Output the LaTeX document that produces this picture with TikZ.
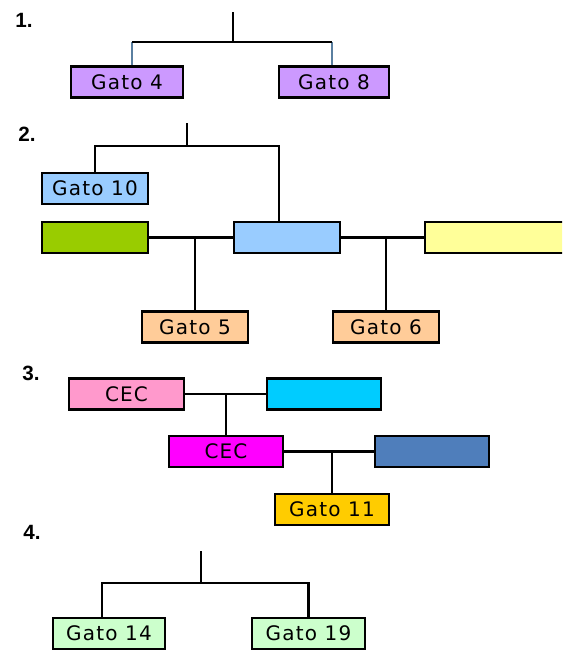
\documentclass[tikz,border=0pt]{standalone}
\usepackage{fontspec}
\setmainfont{Liberation Sans}
\newfontfamily\boxfont[LetterSpace=6]{DejaVu Sans}
\usetikzlibrary{calc}
\definecolor{cPurple}{HTML}{CC99FF}
\definecolor{cLBlue}{HTML}{99CCFF}
\definecolor{cGreen}{HTML}{99CC00}
\definecolor{cYellow}{HTML}{FFFF99}
\definecolor{cOrange}{HTML}{FFCC99}
\definecolor{cPink}{HTML}{FF99CC}
\definecolor{cCyan}{HTML}{00CCFF}
\definecolor{cMagenta}{HTML}{FF00FF}
\definecolor{cDBlue}{HTML}{4F7EBB}
\definecolor{cGold}{HTML}{FFCC00}
\definecolor{cMint}{HTML}{CCFFCC}
\definecolor{cDrop}{HTML}{5A7FA0}
\tikzset{
  gbox/.style={draw=black, line width=1.6pt, rectangle, inner sep=0pt,
    font=\boxfont\fontsize{15}{17}\selectfont,
    minimum width=#1*0.75pt, minimum height=23.25pt},
  link/.style={draw=black, line width=1.6pt},
  droplink/.style={draw=cDrop, line width=1.6pt},
  seclabel/.style={font=\bfseries\fontsize{15.5}{17}\selectfont, inner sep=0pt}
}
\begin{document}
\begin{tikzpicture}[x=0.75pt,y=-0.75pt]
\useasboundingbox (0,0) rectangle (562,651);
\clip (0,0) rectangle (562,651);
% section labels
\node[seclabel] (l1) at (24,20) {1.};
\node[seclabel] (l2) at (27,134) {2.};
\node[seclabel] (l3) at (31,373) {3.};
\node[seclabel] (l4) at (32,532) {4.};
% ---- section 1
\node[gbox=112, fill=cPurple] (g4) at (127,82) {Gato 4};
\node[gbox=110, fill=cPurple] (g8) at (334,82) {Gato 8};
\coordinate (t1) at (233,12);
\coordinate (j1) at (233,42);
\draw[link] (t1) -- (j1);
\draw[droplink] ([xshift=3.75pt]g4.north) -- ([xshift=3.75pt]g4.north |- j1);
\draw[droplink] ([xshift=-1.5pt]g8.north) -- ([xshift=-1.5pt]g8.north |- j1);
\draw[link] ([xshift=3.75pt]g4.north |- j1) -- ([xshift=-1.5pt]g8.north |- j1);
% ---- section 2
\node[gbox=106, fill=cLBlue] (g10) at (95,188.5) {Gato 10};
\node[gbox=106, fill=cGreen] (green) at (95,237.5) {};
\node[gbox=106, fill=cLBlue] (blue) at (287,237.5) {};
\node[gbox=160, fill=cYellow] (yellow) at (505,237.5) {};
\node[gbox=106, fill=cOrange] (g5) at (195,327) {Gato 5};
\node[gbox=106, fill=cOrange] (g6) at (386,327) {Gato 6};
\coordinate (t2) at (187,123);
\coordinate (j2) at (187,146);
\draw[link] (t2) -- (j2);
\draw[link] (g10.north) -- (g10.north |- j2) -- ([xshift=-6pt]blue.north |- j2) -- ([xshift=-6pt]blue.north);
\draw[link] (green.east) -- (blue.west);
\draw[link] (g5.north) -- (g5.north |- green.east);
\draw[link] (blue.east) -- (yellow.west);
\draw[link] (g6.north) -- (g6.north |- blue.east);
% ---- section 3
\node[gbox=115, fill=cPink] (cec1) at (126.5,394) {CEC};
\node[gbox=114, fill=cCyan] (cyan) at (324,394) {};
\node[gbox=114, fill=cMagenta] (cec2) at (226,451.5) {CEC};
\node[gbox=114, fill=cDBlue] (dblue) at (432,451.5) {};
\node[gbox=114, fill=cGold] (g11) at (332,509.5) {Gato 11};
\draw[link] (cec1.east) -- (cyan.west);
\draw[link] (cec2.north) -- (cec2.north |- cec1.east);
\draw[link] (cec2.east) -- (dblue.west);
\draw[link] (g11.north) -- (g11.north |- cec2.east);
% ---- section 4
\node[gbox=112, fill=cMint] (g14) at (109,633.5) {Gato 14};
\node[gbox=113, fill=cMint] (g19) at (308.5,633.5) {Gato 19};
\coordinate (t4) at (201,551);
\coordinate (j4) at (201,583);
\draw[link] (t4) -- (j4);
\draw[link] ([xshift=-5.25pt]g14.north) -- ([xshift=-5.25pt]g14.north |- j4) -- (g19.north |- j4) -- (g19.north);
\end{tikzpicture}
\end{document}
